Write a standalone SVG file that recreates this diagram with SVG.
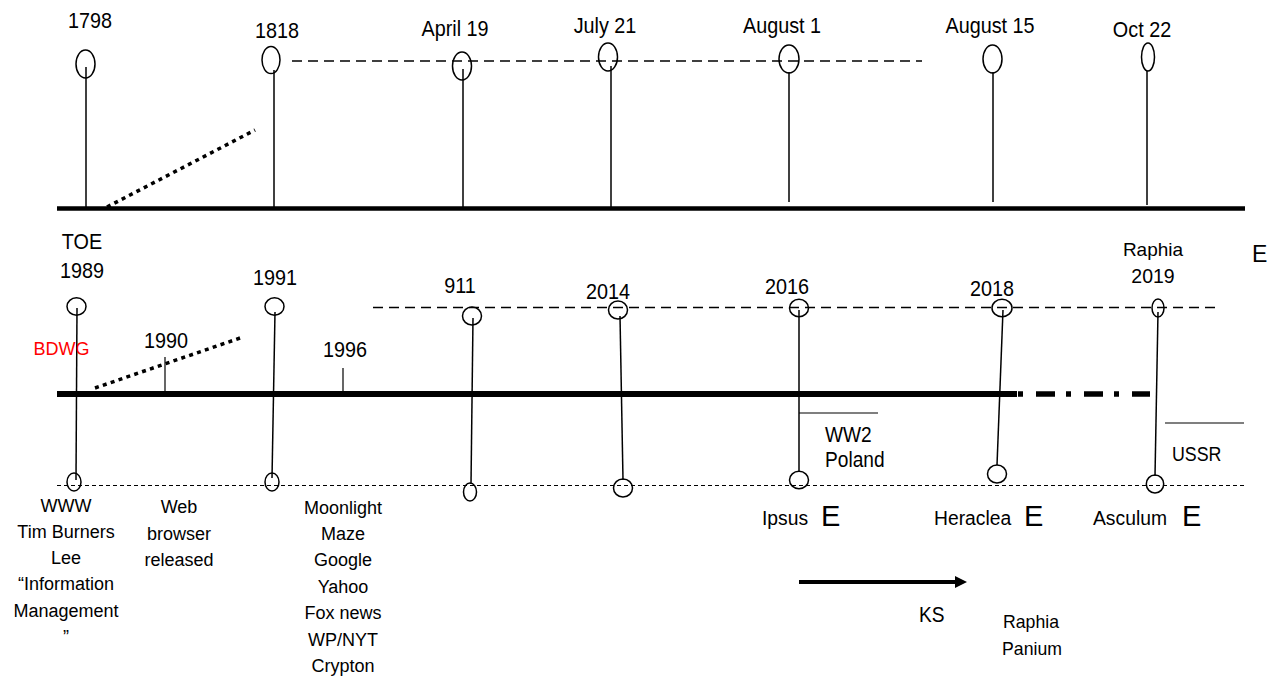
<svg xmlns="http://www.w3.org/2000/svg" width="1277" height="678" viewBox="0 0 1277 678">
<style>
.t{font-family:"Liberation Sans",Arial,sans-serif;font-size:18px;fill:#000;text-anchor:middle}
.n{font-family:"Liberation Sans",Arial,sans-serif;font-size:22.5px;fill:#000;text-anchor:middle}
.l{font-family:"Liberation Sans",Arial,sans-serif;font-size:22px;fill:#000}
.big{font-family:"Liberation Sans",Arial,sans-serif;font-size:29px;fill:#000}
.e{fill:none;stroke:#000;stroke-width:1.5}
.stem{stroke:#000;stroke-width:1.5;fill:none}
.axis{stroke:#000;fill:none}
.dash{stroke:#000;stroke-width:1.3;stroke-dasharray:10 6;fill:none}
.fine{stroke:#000;stroke-width:1;stroke-dasharray:4 3;fill:none}
.dot{stroke:#000;stroke-width:3.5;stroke-dasharray:4 4.3;fill:none}
.thin{stroke:#000;stroke-width:1.2;fill:none}
</style>
<defs>
<marker id="ah" markerWidth="12" markerHeight="12" refX="2" refY="6" orient="auto" markerUnits="userSpaceOnUse">
<path d="M0,0 L12,6 L0,12 Z" fill="#000"/>
</marker>
</defs>
<rect width="1277" height="678" fill="#fff"/>

<g id="connectors">
<line class="axis" x1="57" y1="208.5" x2="1245" y2="208.5" stroke-width="4.5"/>
<line class="dot" x1="107" y1="207" x2="255" y2="130"/>
<line class="dash" x1="292" y1="61" x2="922" y2="61"/>
<line class="stem" x1="86" y1="67" x2="86" y2="208"/>
<line class="stem" x1="274" y1="70" x2="274" y2="208"/>
<line class="stem" x1="463" y1="69" x2="463" y2="208"/>
<line class="stem" x1="611" y1="66" x2="611" y2="208"/>
<line class="stem" x1="789" y1="72" x2="789" y2="202"/>
<line class="stem" x1="993" y1="72" x2="993" y2="202"/>
<line class="stem" x1="1147" y1="71" x2="1147" y2="205"/>
<line class="axis" x1="57" y1="394" x2="1017" y2="394" stroke-width="6"/>
<line class="axis" x1="1018" y1="394" x2="1150" y2="394" stroke-width="5.5" stroke-dasharray="5 13 19 11"/>
<line class="dot" x1="95" y1="388" x2="243" y2="337"/>
<line class="dash" x1="373" y1="307.5" x2="1215" y2="307.5"/>
<line class="fine" x1="57" y1="485.5" x2="1245" y2="485.5"/>
<line class="thin" x1="165" y1="357" x2="165" y2="391"/>
<line class="thin" x1="343" y1="368" x2="343" y2="391"/>
<line class="stem" x1="77" y1="308" x2="76" y2="480"/>
<line class="stem" x1="275" y1="312" x2="272" y2="478"/>
<line class="stem" x1="473" y1="318" x2="471" y2="484"/>
<line class="stem" x1="620" y1="316" x2="623" y2="480"/>
<line class="stem" x1="799" y1="310" x2="799" y2="472"/>
<line class="stem" x1="1003" y1="310" x2="997" y2="465"/>
<line class="stem" x1="1158" y1="312" x2="1155" y2="476"/>
<line class="thin" x1="799" y1="413" x2="878" y2="413"/>
<line class="thin" x1="1165" y1="423" x2="1244" y2="423"/>
<line x1="799" y1="582" x2="957" y2="582" stroke="#000" stroke-width="4" marker-end="url(#ah)"/>
</g>

<g id="n1798"><ellipse class="e" cx="85.5" cy="64" rx="9.5" ry="14"/><text class="n" transform="translate(90,28) scale(0.88,1)">1798</text></g>
<g id="n1818"><ellipse class="e" cx="271" cy="60" rx="9" ry="13.5"/><text class="n" transform="translate(277,38) scale(0.88,1)">1818</text></g>
<g id="nApril19"><ellipse class="e" cx="462" cy="66" rx="9.5" ry="14"/><text class="n" transform="translate(455,36) scale(0.88,1)">April 19</text></g>
<g id="nJuly21"><ellipse class="e" cx="608" cy="57" rx="9.5" ry="14"/><text class="n" transform="translate(605,33) scale(0.88,1)">July 21</text></g>
<g id="nAugust1"><ellipse class="e" cx="789" cy="59" rx="10" ry="14"/><text class="n" transform="translate(782,33) scale(0.88,1)">August 1</text></g>
<g id="nAugust15"><ellipse class="e" cx="992.5" cy="59" rx="9.5" ry="14"/><text class="n" transform="translate(990,33) scale(0.88,1)">August 15</text></g>
<g id="nOct22"><ellipse class="e" cx="1148" cy="57" rx="6.5" ry="14"/><text class="n" transform="translate(1142,37) scale(0.88,1)">Oct 22</text></g>

<g id="n1989">
<ellipse class="e" cx="76.5" cy="306.5" rx="9.5" ry="8.7"/>
<ellipse class="e" cx="74" cy="482" rx="7" ry="9"/>
<text class="n" transform="translate(82,249) scale(0.88,1)">TOE</text>
<text class="n" transform="translate(82,278) scale(0.88,1)">1989</text>
<text class="t" x="66" y="512">WWW</text>
<text class="t" x="66" y="538">Tim Burners</text>
<text class="t" x="66" y="564">Lee</text>
<text class="t" x="66" y="590">“Information</text>
<text class="t" x="66" y="617">Management</text>
<text class="t" x="66" y="643">”</text>
</g>
<g id="nBDWG"><text class="t" x="61.5" y="355" style="fill:#ff0000">BDWG</text></g>
<g id="n1990">
<text class="n" transform="translate(166,348) scale(0.88,1)">1990</text>
<text class="t" x="179" y="513">Web</text>
<text class="t" x="179" y="540">browser</text>
<text class="t" x="179" y="566">released</text>
</g>
<g id="n1991">
<ellipse class="e" cx="274.5" cy="306.5" rx="9.5" ry="8.7"/>
<ellipse class="e" cx="272" cy="482" rx="7" ry="9"/>
<text class="n" transform="translate(275,285) scale(0.88,1)">1991</text>
</g>
<g id="n1996">
<text class="n" transform="translate(345,357) scale(0.88,1)">1996</text>
<text class="t" x="343" y="514">Moonlight</text>
<text class="t" x="343" y="540">Maze</text>
<text class="t" x="343" y="566">Google</text>
<text class="t" x="343" y="593">Yahoo</text>
<text class="t" x="343" y="619">Fox news</text>
<text class="t" x="343" y="646">WP/NYT</text>
<text class="t" x="343" y="672">Crypton</text>
</g>
<g id="n911">
<ellipse class="e" cx="472" cy="316" rx="9.5" ry="9"/>
<ellipse class="e" cx="470" cy="492" rx="6.5" ry="9"/>
<text class="n" transform="translate(460,293) scale(0.88,1)">911</text>
</g>
<g id="n2014">
<ellipse class="e" cx="618" cy="310" rx="9.5" ry="9"/>
<ellipse class="e" cx="623" cy="488" rx="9.5" ry="9"/>
<text class="n" transform="translate(608,299) scale(0.88,1)">2014</text>
</g>
<g id="n2016">
<ellipse class="e" cx="799" cy="308" rx="9.5" ry="8.7"/>
<ellipse class="e" cx="799" cy="480" rx="9.5" ry="8.7"/>
<text class="n" transform="translate(787,294) scale(0.88,1)">2016</text>
<text class="l" transform="translate(825,442) scale(0.87,1)">WW2</text>
<text class="l" transform="translate(825,467) scale(0.87,1)">Poland</text>
<text class="l" transform="translate(762,525) scale(0.92,1)" style="font-size:21px">Ipsus</text>
<text class="big" x="821" y="526">E</text>
</g>
<g id="n2018">
<ellipse class="e" cx="1002" cy="308" rx="10" ry="8.7"/>
<ellipse class="e" cx="997" cy="474" rx="9.5" ry="9"/>
<text class="n" transform="translate(992,296) scale(0.88,1)">2018</text>
<text class="l" transform="translate(934,525) scale(0.92,1)" style="font-size:21px">Heraclea</text>
<text class="big" x="1024" y="526">E</text>
</g>
<g id="n2019">
<ellipse class="e" cx="1158" cy="308" rx="6" ry="9"/>
<ellipse class="e" cx="1155" cy="484" rx="8.7" ry="9"/>
<text class="t" x="1153" y="256" style="font-size:19px">Raphia</text>
<text class="t" x="1153" y="283" style="font-size:19.5px">2019</text>
<text class="l" transform="translate(1172,461) scale(0.89,1)" style="font-size:20px">USSR</text>
<text class="l" transform="translate(1093,525) scale(0.92,1)" style="font-size:21px">Asculum</text>
<text class="big" x="1182" y="526">E</text>
</g>
<g id="nE"><text class="big" x="1252" y="262" style="font-size:23px">E</text></g>
<g id="nKS"><text class="l" transform="translate(919,622) scale(0.87,1)">KS</text></g>
<g id="nRaphiaPanium">
<text class="t" transform="translate(1031,628) scale(0.95,1)" style="font-size:18.6px">Raphia</text>
<text class="t" transform="translate(1032,655) scale(0.95,1)" style="font-size:18.6px">Panium</text>
</g>
</svg>
